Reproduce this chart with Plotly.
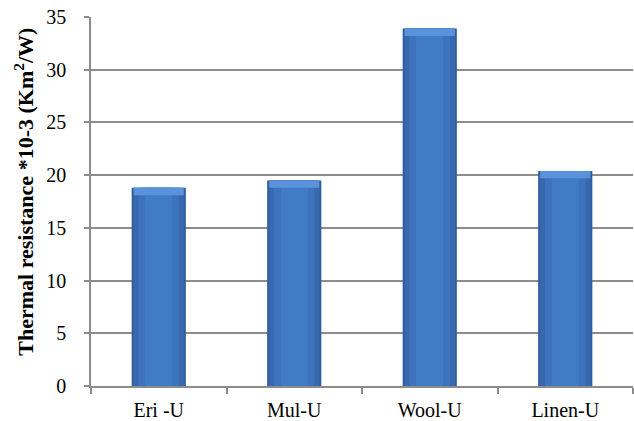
import plotly.graph_objects as go

# Thermal resistance of the four fabric samples
categories = ["Eri -U", "Mul-U", "Wool-U", "Linen-U"]
resistance = [18.8, 19.5, 33.9, 20.4]
y_ticks = [0, 5, 10, 15, 20, 25, 30, 35]

FONT = "Liberation Serif, Times New Roman, serif"

fig = go.Figure()

# layered bars give the bevelled, shaded look: dark rim, mid body, lighter core
layers = [
    (0.40, "#2f5f9e"),
    (0.37, "#3868ad"),
    (0.30, "#3c73bc"),
    (0.20, "#417bc6"),
]
for width, color in layers:
    fig.add_trace(go.Bar(
        x=categories, y=resistance, width=width,
        marker=dict(color=color, line=dict(width=0)),
        hoverinfo="skip", showlegend=False,
    ))

# lighter bevel strip along the top of each bar
bevel = 0.7
fig.add_trace(go.Bar(
    x=categories, y=[bevel] * len(resistance),
    base=[v - bevel for v in resistance], width=0.37,
    marker=dict(color="#5a93dc", line=dict(width=0)),
    hoverinfo="skip", showlegend=False,
))

fig.update_layout(
    barmode="overlay",
    width=634, height=421,
    margin=dict(l=91, r=1, t=17, b=35),
    paper_bgcolor="white", plot_bgcolor="white",
    font=dict(family=FONT, size=20, color="black"),
    showlegend=False,
    xaxis=dict(
        showline=True, linecolor="#8c8c8c", linewidth=1.5,
        ticks="outside", ticklen=6, tickcolor="#8c8c8c", tickwidth=1.5,
        tickson="boundaries", showgrid=False,
        tickfont=dict(family=FONT, size=20), ticklabelstandoff=5,
    ),
    yaxis=dict(
        range=[0, 35], tickvals=y_ticks,
        showline=True, linecolor="#8c8c8c", linewidth=1.5,
        ticks="outside", ticklen=5, tickcolor="#8c8c8c", tickwidth=1.5,
        showgrid=True, gridcolor="#8c8c8c", gridwidth=1.5,
        zeroline=False,
        tickfont=dict(family=FONT, size=20), ticklabelstandoff=14,
    ),
)

# vertical axis title
fig.add_annotation(
    text="<b>Thermal resistance *10-3 (Km<sup>2</sup>/W)</b>",
    xref="paper", yref="paper", x=-0.124, y=0.526,
    xanchor="center", yanchor="middle", textangle=-90,
    showarrow=False, font=dict(family=FONT, size=22, color="black"),
)

fig.write_html("out.html")
